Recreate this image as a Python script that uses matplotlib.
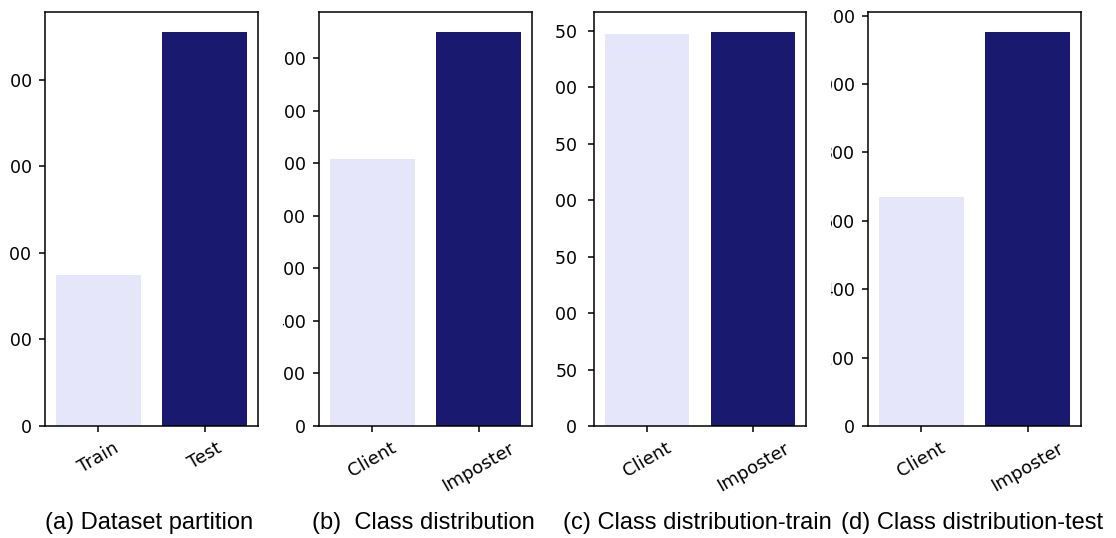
import matplotlib
matplotlib.use("Agg")
import matplotlib.pyplot as plt
from matplotlib.transforms import Bbox, TransformedBbox

# data
partition_labels = ["Train", "Test"]
partition_counts = [696, 1822]
class_labels = ["Client", "Imposter"]
class_counts = [1018, 1502]
train_counts = [347, 349]
test_counts = [671, 1153]

captions = ["(a) Dataset partition", "(b)  Class distribution",
            "(c) Class distribution-train", "(d) Class distribution-test"]
yticks_list = [[0, 400, 800, 1200, 1600],
               [0, 200, 400, 600, 800, 1000, 1200, 1400],
               [0, 50, 100, 150, 200, 250, 300, 350],
               [0, 200, 400, 600, 800, 1000, 1200]]

colors = ["#e6e6fa", "#191970"]

W, H = 1116, 538
fig = plt.figure(figsize=(W / 100, H / 100), dpi=100)

# axes boxes in pixels (left, right), shared top/bottom
ax_px = [(45, 258), (319, 532), (594, 806), (868, 1081)]
clip_left = [10, 283, 555, 831]   # each panel was cropped on its left side
ypad = [5, 5, 7.5, 5]
top_px, bot_px = 12, 426

panels = [(partition_labels, partition_counts),
          (class_labels, class_counts),
          (class_labels, train_counts),
          (class_labels, test_counts)]

for i, (labels, counts) in enumerate(panels):
    l, r = ax_px[i]
    ax = fig.add_axes([l / W, (H - bot_px) / H, (r - l) / W, (bot_px - top_px) / H])
    ax.bar(range(len(labels)), counts, width=0.8, color=colors)
    ax.set_xlim(-0.5, len(labels) - 0.5)
    ax.set_xticks(range(len(labels)))
    ax.set_xticklabels(labels, rotation=30, ha="center", fontsize=13)
    ax.set_yticks(yticks_list[i])
    ax.tick_params(axis="both", labelsize=12.5, length=4.5, width=1.1)
    ax.tick_params(axis="x", labelsize=13, pad=5)
    ax.tick_params(axis="y", pad=ypad[i])
    for s in ax.spines.values():
        s.set_linewidth(1.1)

    # clip the y tick labels at the left crop edge of this panel
    clip_x1 = clip_left[i + 1] if i + 1 < len(clip_left) else W
    box = TransformedBbox(Bbox.from_extents(clip_left[i] / W, 0, clip_x1 / W, 1), fig.transFigure)
    for t in ax.yaxis.get_major_ticks():
        t.label1.set_clip_box(box)
        t.label1.set_clip_on(True)

    fig.text((l + r) / 2 / W - 0.002, (H - 529) / H, captions[i], ha="center", va="baseline",
             fontsize=17, family="Liberation Sans")

fig.savefig("out.png", dpi=100)
